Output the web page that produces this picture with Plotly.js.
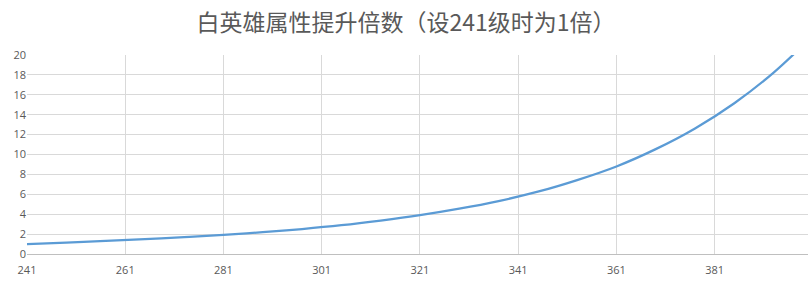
<!DOCTYPE html>
<html>
<head>
<meta charset="utf-8">
<script src="https://cdn.plot.ly/plotly-3.0.1.min.js"></script>
<style>html,body{margin:0;padding:0;background:#fff;}#chart{width:812px;height:282px;}</style>
</head>
<body>
<div id="chart"></div>
<script>
const levels = [241,249,257,265,273,281,289,297,305,313,321,329,337,345,353,361,369,377,385,393,401];
const multiplier = [1.00,1.15,1.32,1.50,1.70,1.92,2.19,2.51,2.89,3.36,3.90,4.55,5.32,6.26,7.43,8.80,10.54,12.62,15.15,18.23,21.95];
const xTickVals = [241,261,281,301,321,341,361,381];
const xTickText = ['241','261','281','301','321','341','361','381'];
const titleText = '白英雄属性提升倍数（设241级时为1倍）';

const trace = {
  x: levels, y: multiplier, type: 'scatter', mode: 'lines',
  line: {color: '#5b9bd5', width: 2.25, shape: 'spline'},
  hoverinfo: 'x+y'
};
const layout = {
  width: 812, height: 282,
  margin: {l: 27, r: 4, t: 55, b: 28},
  paper_bgcolor: '#fff', plot_bgcolor: '#fff',
  showlegend: false,
  title: {text: titleText, x: 0.5, xanchor: 'center', y: 0.92, yanchor: 'middle',
    font: {family: 'Noto Sans CJK SC, sans-serif', size: 23, color: '#595959'}},
  font: {family: 'Open Sans, Liberation Sans, sans-serif', size: 11, color: '#595959'},
  xaxis: {range: [241, 400], tickvals: xTickVals, ticktext: xTickText,
    showgrid: true, gridcolor: '#d9d9d9', gridwidth: 1,
    showline: true, linecolor: '#bfbfbf', linewidth: 1,
    ticks: '', ticklabelstandoff: 6, zeroline: false, fixedrange: true},
  yaxis: {range: [0, 20], dtick: 2, tick0: 0,
    showgrid: true, gridcolor: '#d9d9d9', gridwidth: 1,
    showline: false, ticks: '', zeroline: false, fixedrange: true}
};
Plotly.newPlot('chart', [trace], layout, {displayModeBar: false, staticPlot: true});
</script>
</body>
</html>
